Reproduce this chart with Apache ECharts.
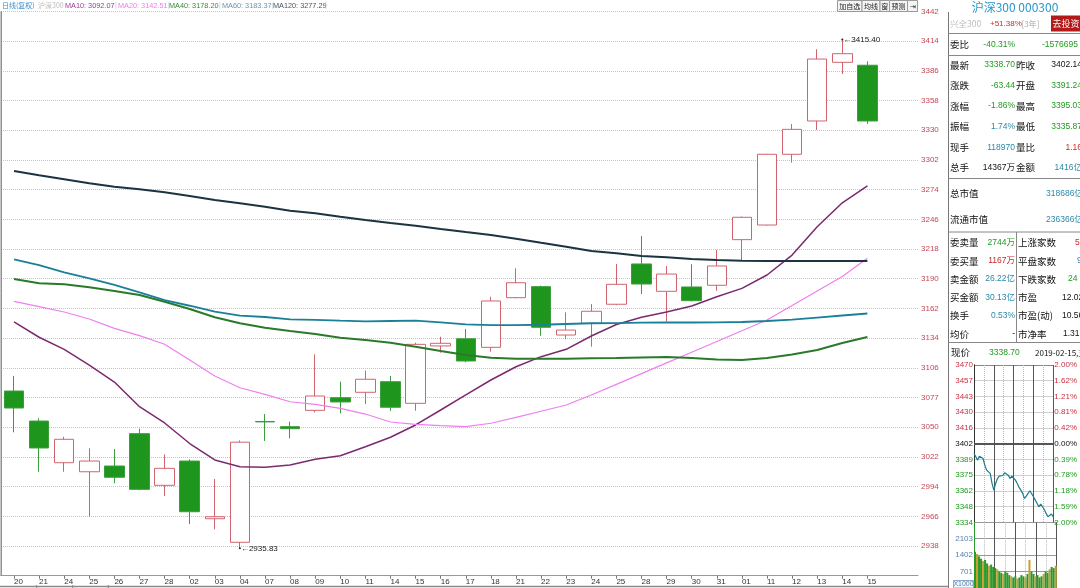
<!DOCTYPE html>
<html><head><meta charset="utf-8">
<script src="https://cdn.jsdelivr.net/npm/echarts@6.0.0/dist/echarts.min.js"></script>
<style>html,body{margin:0;padding:0;background:#fff;}#c{width:1080px;height:588px;}</style>
</head><body><div id="c"></div>
<script>
// ---------- main daily K data ----------
const dates = ['20','21','24','25','26','27','28','02','03','04','07','08','09','10','11','14','15','16','17','18','21','22','23','24','25','28','29','30','31','01','11','12','13','14','15'];
const opens  = [3084.1,3055.8,3016.5,3008.0,3013.4,3043.9,2995.2,3018.1,2963.7,2941.5,3055.4,3050.5,3065.9,3077.8,3082.9,3092.9,3072.5,3126.6,3133.4,3125.3,3172.1,3182.5,3136.9,3147.9,3165.9,3203.9,3178.1,3182.2,3183.8,3226.8,3240.6,3307.3,3338.7,3394.0,3391.24];
const closes = [3068.1,3030.4,3038.6,3018.1,3002.8,2991.4,3011.2,2970.3,2965.6,3035.87,3055.0,3048.6,3079.4,3073.8,3095.2,3068.8,3128.1,3129.1,3112.4,3169.0,3186.2,3144.2,3141.6,3159.3,3184.7,3185.0,3194.4,3169.3,3202.0,3247.9,3307.3,3330.8,3397.1,3402.14,3338.70];
const lows   = [3045.2,3008.0,3008.0,2965.6,2997.1,2990.6,2985.1,2958.7,2953.7,2935.83,3037.0,3039.5,3064.0,3063.1,3071.9,3065.3,3065.5,3120.2,3111.2,3121.2,3171.5,3136.3,3132.9,3125.9,3165.0,3175.6,3149.5,3168.5,3178.7,3207.6,3240.0,3299.4,3330.2,3383.0,3335.87];
const highs  = [3098.3,3058.4,3041.0,3030.1,3029.4,3048.6,3024.4,3019.7,3001.2,3037.5,3062.4,3055.2,3118.7,3092.9,3103.3,3098.3,3129.7,3135.3,3142.6,3173.0,3199.8,3183.5,3158.3,3166.1,3203.9,3230.3,3202.0,3203.6,3217.1,3248.6,3307.8,3335.8,3406.3,3415.40,3395.03];
const ma10  = [3149.2,3134.8,3123.4,3108.6,3092.6,3069.3,3054.0,3034.6,3019.1,3012.8,3012.2,3014.4,3019.7,3023.1,3031.6,3040.5,3052.1,3066.2,3080.4,3094.5,3107.0,3116.5,3123.4,3136.0,3146.8,3153.6,3158.6,3164.3,3173.0,3180.9,3193.5,3212.3,3239.0,3261.6,3277.4];
const ma20  = [3168.7,3163.6,3158.6,3152.0,3143.2,3136.3,3128.2,3113.3,3098.3,3087.2,3081.0,3074.0,3071.6,3067.8,3062.4,3054.9,3052.7,3051.4,3050.5,3053.7,3059.3,3065.0,3070.9,3080.4,3090.4,3100.5,3110.6,3120.7,3130.8,3140.9,3151.1,3164.7,3178.4,3192.1,3209.2];
const ma40  = [3189.7,3185.7,3184.7,3181.9,3178.4,3174.6,3168.3,3161.4,3153.6,3148.0,3143.8,3140.7,3137.9,3134.4,3132.2,3129.7,3125.9,3121.8,3118.1,3115.5,3114.6,3114.6,3114.6,3115.0,3115.2,3115.7,3116.2,3115.2,3113.8,3113.3,3115.2,3118.5,3122.8,3129.4,3135.0];
const ma60  = [3208.3,3202.9,3196.0,3190.4,3184.1,3177.2,3169.9,3164.5,3158.9,3155.1,3153.9,3151.7,3151.1,3150.4,3149.8,3150.1,3150.4,3148.9,3147.0,3146.3,3146.3,3146.6,3147.3,3148.0,3148.2,3148.5,3148.7,3148.7,3148.9,3149.2,3150.1,3151.5,3153.4,3155.3,3157.2];
const ma120 = [3291.5,3287.5,3283.7,3279.9,3276.7,3274.3,3271.5,3268.0,3264.2,3261.1,3257.9,3254.1,3251.7,3248.4,3245.3,3242.5,3240.0,3236.9,3234.0,3231.2,3227.7,3223.9,3220.2,3216.1,3213.9,3211.4,3210.2,3208.6,3207.6,3207.0,3206.7,3206.7,3206.7,3206.7,3206.7];
const maNames  = ['MA10','MA20','MA40','MA60','MA120'];
const maLegend = ['3092.07','3142.51','3178.20','3183.37','3277.29'];
const yBase = 2910, yStep = 28;
const yTickLabels = ['','2938','2966','2994','3022','3050','3077','3106','3134','3162','3190','3218','3246','3274','3302','3330','3358','3386','3414','3442'];
const lowMark = {idx: 9, value: 2935.83};
const highMark = {idx: 33, value: 3415.40};

// ---------- intraday mini chart ----------
const prevClose = 3402.14;
const intraday = [3393.6,3390.8,3387.9,3391.3,3392.2,3389.3,3383.6,3379.2,3379.8,3376.4,3367.7,3361.9,3367.7,3372.0,3374.1,3375.8,3374.6,3376.9,3375.8,3374.9,3372.0,3374.1,3374.9,3370.6,3367.7,3364.3,3361.9,3359.1,3354.7,3356.8,3359.1,3361.4,3360.5,3356.2,3353.3,3350.4,3347.5,3349.9,3349.0,3345.2,3341.8,3338.9,3340.3,3341.2,3338.7];
const pBase = 3334.1, pStep = 13.608;
const priceTickLabels = ['3334','3348','3362','3375','3389','3402','3416','3430','3443','3457','3470'];
const pctTickLabels = ['2.00%','1.59%','1.18%','0.78%','0.39%','0.00%','0.42%','0.81%','1.21%','1.62%','2.00%'];
const volumes = [1550,1450,1350,1250,1150,1200,1050,950,1000,900,850,800,700,650,600,700,650,550,500,450,500,400,450,550,500,450,600,1200,700,600,500,550,450,500,600,700,650,800,900,850,950];
const volUp   = [0,1,0,0,1,0,0,1,0,0,0,1,0,0,1,0,0,0,1,0,0,1,0,0,0,1,0,1,0,0,1,0,0,0,1,0,0,1,0,0,1];
const volStep = 701;

// ---------- quote panel ----------
const quoteRows = [['最新','3338.70','昨收','3402.14'],['涨跌','-63.44','开盘','3391.24'],['涨幅','-1.86%','最高','3395.03'],['振幅','1.74%','最低','3335.87'],['现手','118970','量比','1.16'],['总手','14367万','金额','1416亿']];
const marketRows = [['委卖量','2744万','上涨家数','51'],['委买量','1167万','平盘家数','9'],['卖金额','26.22亿','下跌家数','24'],['买金额','30.13亿','市盈','12.02'],['换手','0.53%','市盈(动)','10.56'],['均价','-','市净率','1.31']];

const RED='#d02828', GREEN='#1f9a1f', TEAL='#2a8aa8', BLK='#111';
const quoteColors = [[GREEN,BLK],[GREEN,GREEN],[GREEN,GREEN],[TEAL,GREEN],[TEAL,RED],[BLK,TEAL]];
const marketColors = [[GREEN,RED],[RED,TEAL],[TEAL,GREEN],[TEAL,BLK],[TEAL,BLK],[BLK,BLK]];

const sh = v => +(v - yBase).toFixed(3);
const FONT = '"Liberation Sans","Noto Sans CJK SC",sans-serif';
const CJK = '"Noto Sans CJK SC","Liberation Sans",sans-serif';

function txt(x,y,s,fill,size,align,family,weight){
  return {type:'text', x:x, y:y, z:50, silent:true, style:{text:s, fill:fill, font:(weight||'normal')+' '+size+'px '+(family||FONT), align:align||'left', verticalAlign:'middle'}};
}
function ln(x1,y1,x2,y2,stroke,w){
  return {type:'line', z:40, silent:true, shape:{x1:x1,y1:y1,x2:x2,y2:y2}, style:{stroke:stroke, lineWidth:w||1}};
}
function rc(x,y,w,h,fill,stroke){
  return {type:'rect', z:40, silent:true, shape:{x:x,y:y,width:w,height:h}, style:{fill:fill, stroke:stroke||null, lineWidth:1}};
}

const graphics = [];
// legend line
const legendX = [65,118,169,222,273];
const legendColors = ['#9a3a9a','#f07af0','#3a8a3a','#6f93ab','#4a5560'];
graphics.push(txt(2,5.5,'日线(复权)','#3a8cc8',7,'left',CJK));
graphics.push(txt(38,5.5,'沪深300','#bbbbbb',7,'left',CJK));
maNames.forEach((n,i)=>{
  graphics.push(txt(legendX[i],5.5,n+': '+maLegend[i],legendColors[i],7.3));
  graphics.push(txt(legendX[i]+(i===4?52:50),5.5,'|','#a8d0dc',7));
});
// toolbar
const tools = [['加自选',837.5,24.5],['均线',862,18],['窗',880,9.5],['预测',889.5,18],['⇥',907.5,10]];
tools.forEach(t=>{
  graphics.push(rc(t[1],0.5,t[2],11,'#f4f4f4','#9a9a9a'));
  graphics.push(txt(t[1]+t[2]/2,6,t[0],'#222',7,'center',CJK));
});
// frame lines
graphics.push(ln(1,11.4,1,576,'#8a8a8a',1));
graphics.push(ln(0,586.5,948,586.5,'#8a8a8a',1.5));
[36.7,72.7,108.3].forEach(x=>graphics.push(ln(x,585,x,588,'#8a8a8a',1)));
// panel
graphics.push(ln(948.5,12,948.5,588,'#777',1));
graphics.push(txt(1015,7,'沪深300 000300','#2a98c8',12,'center',CJK));
graphics.push(txt(950,23.5,'兴全300','#bdbdbd',8.5,'left',CJK));
graphics.push(txt(990,23.5,'+51.38%',RED,8));
graphics.push(txt(1021.5,23.5,'[3年]','#aaaaaa',8,'left',CJK));
graphics.push(rc(1051,15.5,30,16,'#b41a1a'));
graphics.push(txt(1066,23.5,'去投资','#ffffff',9,'center',CJK));
graphics.push(ln(948,33.5,1080,33.5,'#888'));
graphics.push(txt(950,44.5,'委比',BLK,9.5,'left',CJK));
graphics.push(txt(1015,44.5,'-40.31%',GREEN,8.5,'right'));
graphics.push(txt(1042,44.5,'-1576695',GREEN,8.5,'left'));
graphics.push(ln(948,55.5,1080,55.5,'#888'));
const qy = [65,85.7,106,126.7,147.3,167.7];
quoteRows.forEach((r,i)=>{
  graphics.push(txt(950,qy[i],r[0],BLK,9.5,'left',CJK));
  graphics.push(txt(1015,qy[i],r[1],quoteColors[i][0],8.5,'right'));
  graphics.push(txt(1016,qy[i],r[2],BLK,9.5,'left',CJK));
  graphics.push(txt(1082,qy[i],r[3],quoteColors[i][1],8.5,'right'));
});
graphics.push(ln(948,178.5,1080,178.5,'#888'));
graphics.push(txt(950,193.3,'总市值',BLK,9.5,'left',CJK));
graphics.push(txt(1046,193.3,'318686亿',TEAL,8.5,'left'));
graphics.push(txt(950,219.3,'流通市值',BLK,9.5,'left',CJK));
graphics.push(txt(1046,219.3,'236366亿',TEAL,8.5,'left'));
graphics.push(ln(948,232,1080,232,'#888'));
graphics.push(ln(1016.5,232,1016.5,342.5,'#888'));
const my = [242.3,261,279,297.3,315.7,334];
const m2x = [1075,1077,1068,1062,1062,1063];
marketRows.forEach((r,i)=>{
  graphics.push(txt(950,my[i],r[0],BLK,9.5,'left',CJK));
  graphics.push(txt(1015,my[i],r[1],marketColors[i][0],8.5,'right'));
  graphics.push(txt(1018,my[i],r[2],BLK,9.5,'left',CJK));
  graphics.push(txt(m2x[i],my[i],r[3],marketColors[i][1],8.5,'left'));
});
graphics.push(ln(948,342.5,1080,342.5,'#888'));
graphics.push(txt(951,352.7,'现价',BLK,9.5,'left',CJK));
graphics.push(txt(989,352.7,'3338.70',GREEN,8.5,'left'));
graphics.push(txt(1035,352.7,'2019-02-15,五',BLK,8,'left',CJK));
graphics.push(rc(953.5,580.5,20,7.5,'#f4f8fc','#8aaac8'));
graphics.push(txt(963.5,584.5,'X1000','#5a80b0',7,'center'));

const lineSeries = [ma10,ma20,ma40,ma60,ma120];
const lineColors = ['#7a2a6e','#f07ef0','#2a7a2a','#1a8098','#1c3340'];
const lineWidths = [1.5,1.2,2,1.8,2];

const priceColor = (v)=>{const i=Math.round(v/pStep); return i<5?GREEN:(i===5?BLK:'#c83040');};

const option = {
  animation:false,
  backgroundColor:'#ffffff',
  textStyle:{fontFamily:FONT},
  grid:[
    {left:1, right:162, top:11.4, bottom:12.3},
    {left:1.45, width:878.5, top:11.4, bottom:12.3},
    {left:974, width:82.7, top:365, height:157.3},
    {left:974, width:82.7, top:522.3, height:65.7}
  ],
  xAxis:[
    {gridIndex:0, type:'value', min:0, max:1, axisLine:{show:true,onZero:false,lineStyle:{color:'#999'}}, axisTick:{show:false}, axisLabel:{show:false}, splitLine:{show:false}},
    {gridIndex:1, type:'category', data:dates, boundaryGap:true, axisLine:{show:false,onZero:false}, axisTick:{show:true,alignWithLabel:true,length:3,lineStyle:{color:'#777'}}, axisLabel:{interval:0,align:'left',margin:2,fontSize:8,color:'#333'}, splitLine:{show:false}},
    {gridIndex:2, type:'category', data:intraday.map((_,i)=>i), boundaryGap:false, show:false},
    {gridIndex:2, type:'value', min:0, max:8, interval:1, axisLine:{show:false}, axisTick:{show:false}, axisLabel:{show:false}, splitLine:{show:true,lineStyle:{color:'#b8b8b8',type:'dotted'}}},
    {gridIndex:2, type:'value', min:0, max:8, interval:2, axisLine:{show:false}, axisTick:{show:false}, axisLabel:{show:false}, splitLine:{show:true,lineStyle:{color:'#555',width:1}}},
    {gridIndex:3, type:'category', data:volumes.map((_,i)=>i), boundaryGap:true, show:false},
    {gridIndex:3, type:'value', min:0, max:8, interval:1, axisLine:{show:false}, axisTick:{show:false}, axisLabel:{show:false}, splitLine:{show:true,lineStyle:{color:'#b8b8b8',type:'dotted'}}},
    {gridIndex:3, type:'value', min:0, max:8, interval:2, axisLine:{show:false}, axisTick:{show:false}, axisLabel:{show:false}, splitLine:{show:true,lineStyle:{color:'#555',width:1}}}
  ],
  yAxis:[
    {gridIndex:0, type:'value', position:'right', min:0, max:(yTickLabels.length-1)*yStep, interval:yStep,
      axisLine:{show:true,lineStyle:{color:'#999'}}, axisTick:{show:false},
      axisLabel:{fontSize:8,color:'#c24a5a',margin:3,formatter:v=>yTickLabels[Math.round(v/yStep)]||''},
      splitLine:{show:true,lineStyle:{color:'#c4c4c4',type:'dotted'}}},
    {gridIndex:1, type:'value', min:0, max:(yTickLabels.length-1)*yStep, show:false},
    {gridIndex:2, type:'value', position:'left', min:0, max:pStep*10, interval:pStep,
      axisLine:{show:true,lineStyle:{color:'#333'}}, axisTick:{show:false},
      axisLabel:{fontSize:8,margin:1,formatter:v=>priceTickLabels[Math.round(v/pStep)]||'',color:priceColor},
      splitLine:{show:true,lineStyle:{color:['#222','#cfcfcf','#cfcfcf','#cfcfcf','#cfcfcf','#555','#cfcfcf','#cfcfcf','#cfcfcf','#cfcfcf','#888']}}},
    {gridIndex:2, type:'value', position:'right', min:0, max:pStep*10, interval:pStep,
      axisLine:{show:true,lineStyle:{color:'#333'}}, axisTick:{show:false},
      axisLabel:{fontSize:8,margin:1,formatter:v=>pctTickLabels[Math.round(v/pStep)]||'',color:priceColor},
      splitLine:{show:false}},
    {gridIndex:3, type:'value', position:'left', min:0, max:volStep*4, interval:volStep,
      axisLine:{show:true,lineStyle:{color:'#2a9a2a'}}, axisTick:{show:false},
      axisLabel:{fontSize:8,margin:1,color:'#5a80b0',formatter:v=>(v>0&&v<volStep*4)?String(v):''},
      splitLine:{show:true,lineStyle:{color:'#999'}}},
    {gridIndex:3, type:'value', position:'right', min:0, max:volStep*4, interval:volStep,
      axisLine:{show:true,lineStyle:{color:'#2a9a2a'}}, axisTick:{show:false}, axisLabel:{show:false}, splitLine:{show:false}}
  ],
  series:[
    {type:'candlestick', xAxisIndex:1, yAxisIndex:1, clip:false, barWidth:20,
      data:dates.map((d,i)=>[sh(opens[i]),sh(closes[i]),sh(lows[i]),sh(highs[i])]),
      itemStyle:{color:'#ffffff',color0:'#1e961e',borderColor:'#d0646e',borderColor0:'#3a9e3a',borderWidth:1},
      markPoint:{symbol:'circle',symbolSize:2,itemStyle:{color:'#222'},
        label:{show:true,position:'right',distance:0,fontSize:8,color:'#222',formatter:p=>'←'+p.data.value},
        data:[{coord:[lowMark.idx,sh(lowMark.value)],value:lowMark.value.toFixed(2)},{coord:[highMark.idx,sh(highMark.value)],value:highMark.value.toFixed(2)}]}
    }
  ].concat(lineSeries.map((arr,k)=>({
      type:'line', xAxisIndex:1, yAxisIndex:1, data:arr.map(sh), symbol:'none', silent:true,
      lineStyle:{color:lineColors[k],width:lineWidths[k]}, z:3
  }))).concat([
    {type:'line', xAxisIndex:2, yAxisIndex:2, data:intraday.map(v=>+(v-pBase).toFixed(3)), symbol:'none',
      lineStyle:{color:'#1b7c8c',width:1.2}, z:5,
      markLine:{silent:true,symbol:'none',label:{show:false},lineStyle:{color:'#555',width:2,type:'solid'},data:[{yAxis:+(prevClose-pBase).toFixed(3)}]}},
    {type:'bar', xAxisIndex:5, yAxisIndex:4, data:volumes, barCategoryGap:'0%', silent:true,
      itemStyle:{color:p=>volUp[p.dataIndex]?'#c8a030':'#2a9a2a'}}
  ]),
  graphic:graphics
};
const chart = echarts.init(document.getElementById('c'));
chart.setOption(option);
</script>
</body></html>
